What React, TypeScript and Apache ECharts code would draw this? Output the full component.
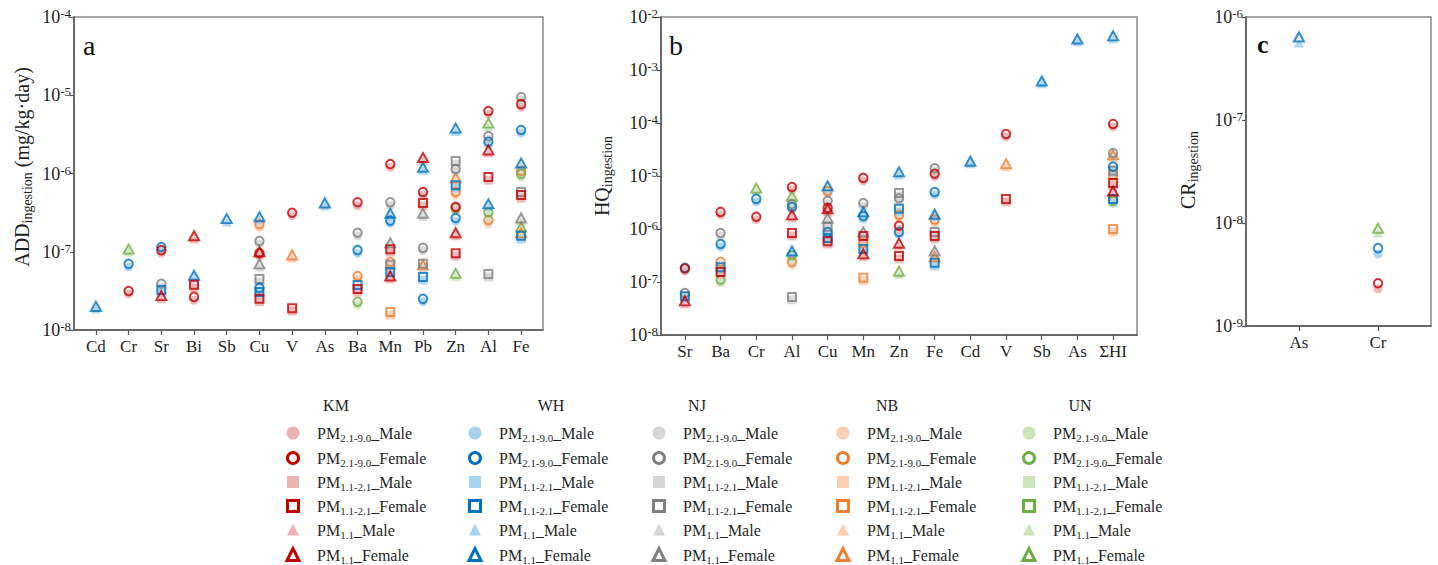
import React, { useEffect, useRef } from "react";
import * as echarts from "echarts";

type Pt = [string, string, string, number, number]; // [category, city, fraction, female, male]

const CATEGORIES_A = ["Cd", "Cr", "Sr", "Bi", "Sb", "Cu", "V", "As", "Ba", "Mn", "Pb", "Zn", "Al", "Fe"];
const CATEGORIES_B = ["Sr", "Ba", "Cr", "Al", "Cu", "Mn", "Zn", "Fe", "Cd", "V", "Sb", "As", "ΣHI"];
const CATEGORIES_C = ["As", "Cr"];
const CITIES = ["KM", "WH", "NJ", "NB", "UN"];
const DRAW_ORDER = ["NB", "UN", "NJ", "WH", "KM"];
const FEMALE_COLORS = ["#C00000", "#0070C0", "#7F7F7F", "#ED7D31", "#70AD47"];
const MALE_COLORS = ["#EDB3B3", "#A8D3EE", "#D6D6D6", "#F8CDB0", "#C9E4B9"];
const FRACTIONS = ["2.1-9.0", "1.1-2.1", "1.1"];
const FRACTION_SYMBOLS = ["circle", "rect", "triangle"];
const GENDERS = ["Male", "Female"];
const Y_TITLES = [
  ["ADD", "ingestion", " (mg/kg·day)"],
  ["HQ", "ingestion", ""],
  ["CR", "ingestion", ""],
];
const PANEL_LETTERS = ["a", "b", "c"];
const Y_RANGES = [
  [1e-8, 1e-4],
  [1e-8, 1e-2],
  [1e-9, 1e-6],
];

const POINTS_A: Pt[] = [
  ["Cd", "WH", "1.1", 2.0e-8, 1.85e-8],
  ["Cr", "UN", "1.1", 1.08e-7, 9.9e-8],
  ["Cr", "WH", "2.1-9.0", 7.0e-8, 6.4e-8],
  ["Cr", "KM", "2.1-9.0", 3.15e-8, 2.9e-8],
  ["Sr", "WH", "2.1-9.0", 1.15e-7, 1.05e-7],
  ["Sr", "KM", "2.1-9.0", 1.05e-7, 9.6e-8],
  ["Sr", "NJ", "2.1-9.0", 3.9e-8, 3.55e-8],
  ["Sr", "WH", "1.1-2.1", 3.25e-8, 3.0e-8],
  ["Sr", "KM", "1.1", 2.75e-8, 2.5e-8],
  ["Bi", "KM", "1.1", 1.6e-7, 1.45e-7],
  ["Bi", "WH", "1.1", 5.0e-8, 4.6e-8],
  ["Bi", "KM", "1.1-2.1", 3.8e-8, 3.45e-8],
  ["Bi", "KM", "2.1-9.0", 2.65e-8, 2.4e-8],
  ["Sb", "WH", "1.1", 2.65e-7, 2.4e-7],
  ["Cu", "WH", "1.1", 2.8e-7, 2.55e-7],
  ["Cu", "NB", "2.1-9.0", 2.25e-7, 2.05e-7],
  ["Cu", "NJ", "2.1-9.0", 1.37e-7, 1.25e-7],
  ["Cu", "KM", "1.1", 1.0e-7, 9.2e-8],
  ["Cu", "KM", "2.1-9.0", 9.6e-8, 8.8e-8],
  ["Cu", "NJ", "1.1", 7.0e-8, 6.4e-8],
  ["Cu", "NJ", "1.1-2.1", 4.5e-8, 4.1e-8],
  ["Cu", "WH", "2.1-9.0", 3.45e-8, 3.15e-8],
  ["Cu", "WH", "1.1-2.1", 3.05e-8, 2.8e-8],
  ["Cu", "KM", "1.1-2.1", 2.5e-8, 2.3e-8],
  ["V", "KM", "2.1-9.0", 3.15e-7, 2.9e-7],
  ["V", "NB", "1.1", 9.1e-8, 8.3e-8],
  ["V", "KM", "1.1-2.1", 1.9e-8, 1.75e-8],
  ["As", "WH", "1.1", 4.2e-7, 3.85e-7],
  ["Ba", "KM", "2.1-9.0", 4.3e-7, 3.9e-7],
  ["Ba", "NJ", "2.1-9.0", 1.75e-7, 1.6e-7],
  ["Ba", "WH", "2.1-9.0", 1.05e-7, 9.6e-8],
  ["Ba", "NB", "2.1-9.0", 4.9e-8, 4.5e-8],
  ["Ba", "WH", "1.1-2.1", 3.75e-8, 3.4e-8],
  ["Ba", "KM", "1.1-2.1", 3.35e-8, 3.05e-8],
  ["Ba", "UN", "2.1-9.0", 2.3e-8, 2.1e-8],
  ["Mn", "KM", "2.1-9.0", 1.32e-6, 1.2e-6],
  ["Mn", "NJ", "2.1-9.0", 4.3e-7, 3.9e-7],
  ["Mn", "WH", "1.1", 3.1e-7, 2.85e-7],
  ["Mn", "WH", "2.1-9.0", 2.5e-7, 2.3e-7],
  ["Mn", "NJ", "1.1", 1.3e-7, 1.2e-7],
  ["Mn", "KM", "1.1-2.1", 1.08e-7, 9.9e-8],
  ["Mn", "NB", "2.1-9.0", 7.4e-8, 6.8e-8],
  ["Mn", "NJ", "1.1-2.1", 6.8e-8, 6.2e-8],
  ["Mn", "WH", "1.1-2.1", 5.5e-8, 5.0e-8],
  ["Mn", "KM", "1.1", 4.9e-8, 4.5e-8],
  ["Mn", "NB", "1.1-2.1", 1.7e-8, 1.55e-8],
  ["Pb", "KM", "1.1", 1.6e-6, 1.45e-6],
  ["Pb", "WH", "1.1", 1.2e-6, 1.1e-6],
  ["Pb", "KM", "2.1-9.0", 5.8e-7, 5.3e-7],
  ["Pb", "KM", "1.1-2.1", 4.2e-7, 3.85e-7],
  ["Pb", "NJ", "1.1", 3.1e-7, 2.85e-7],
  ["Pb", "NJ", "2.1-9.0", 1.12e-7, 1.03e-7],
  ["Pb", "NJ", "1.1-2.1", 7.0e-8, 6.4e-8],
  ["Pb", "NB", "1.1", 6.8e-8, 6.2e-8],
  ["Pb", "WH", "1.1-2.1", 4.75e-8, 4.35e-8],
  ["Pb", "WH", "2.1-9.0", 2.5e-8, 2.3e-8],
  ["Zn", "WH", "1.1", 3.8e-6, 3.45e-6],
  ["Zn", "NJ", "1.1-2.1", 1.44e-6, 1.3e-6],
  ["Zn", "NJ", "2.1-9.0", 1.14e-6, 1.04e-6],
  ["Zn", "NB", "1.1", 8.8e-7, 8.0e-7],
  ["Zn", "WH", "1.1-2.1", 7.1e-7, 6.5e-7],
  ["Zn", "NB", "2.1-9.0", 5.8e-7, 5.3e-7],
  ["Zn", "KM", "2.1-9.0", 3.75e-7, 3.4e-7],
  ["Zn", "UN", "2.1-9.0", 3.6e-7, 3.3e-7],
  ["Zn", "WH", "2.1-9.0", 2.7e-7, 2.45e-7],
  ["Zn", "KM", "1.1", 1.75e-7, 1.6e-7],
  ["Zn", "KM", "1.1-2.1", 9.6e-8, 8.8e-8],
  ["Zn", "UN", "1.1", 5.3e-8, 4.85e-8],
  ["Al", "KM", "2.1-9.0", 6.3e-6, 5.75e-6],
  ["Al", "UN", "1.1", 4.4e-6, 4.0e-6],
  ["Al", "NJ", "2.1-9.0", 3.0e-6, 2.75e-6],
  ["Al", "WH", "2.1-9.0", 2.55e-6, 2.3e-6],
  ["Al", "KM", "1.1", 2.0e-6, 1.83e-6],
  ["Al", "KM", "1.1-2.1", 9.0e-7, 8.2e-7],
  ["Al", "WH", "1.1", 4.1e-7, 3.75e-7],
  ["Al", "UN", "2.1-9.0", 3.2e-7, 2.9e-7],
  ["Al", "NB", "2.1-9.0", 2.55e-7, 2.3e-7],
  ["Al", "NJ", "1.1-2.1", 5.2e-8, 4.75e-8],
  ["Fe", "NJ", "2.1-9.0", 9.5e-6, 8.7e-6],
  ["Fe", "KM", "2.1-9.0", 7.7e-6, 7.0e-6],
  ["Fe", "WH", "2.1-9.0", 3.6e-6, 3.3e-6],
  ["Fe", "WH", "1.1", 1.36e-6, 1.24e-6],
  ["Fe", "NB", "2.1-9.0", 1.08e-6, 9.9e-7],
  ["Fe", "UN", "2.1-9.0", 9.9e-7, 9.0e-7],
  ["Fe", "NJ", "1.1-2.1", 5.8e-7, 5.3e-7],
  ["Fe", "KM", "1.1-2.1", 5.3e-7, 4.85e-7],
  ["Fe", "NJ", "1.1", 2.7e-7, 2.45e-7],
  ["Fe", "UN", "1.1", 2.07e-7, 1.9e-7],
  ["Fe", "NB", "1.1", 1.75e-7, 1.6e-7],
  ["Fe", "WH", "1.1-2.1", 1.6e-7, 1.45e-7],
];

const POINTS_B: Pt[] = [
  ["Sr", "WH", "2.1-9.0", 1.85e-7, 1.65e-7],
  ["Sr", "KM", "2.1-9.0", 1.8e-7, 1.6e-7],
  ["Sr", "NJ", "2.1-9.0", 6.2e-8, 5.5e-8],
  ["Sr", "WH", "1.1-2.1", 5.4e-8, 4.8e-8],
  ["Sr", "KM", "1.1", 4.4e-8, 3.9e-8],
  ["Ba", "KM", "2.1-9.0", 2.1e-6, 1.85e-6],
  ["Ba", "NJ", "2.1-9.0", 8.4e-7, 7.4e-7],
  ["Ba", "WH", "2.1-9.0", 5.2e-7, 4.6e-7],
  ["Ba", "NB", "2.1-9.0", 2.4e-7, 2.1e-7],
  ["Ba", "WH", "1.1-2.1", 1.9e-7, 1.7e-7],
  ["Ba", "KM", "1.1-2.1", 1.55e-7, 1.37e-7],
  ["Ba", "UN", "2.1-9.0", 1.1e-7, 9.7e-8],
  ["Cr", "UN", "1.1", 5.9e-6, 5.2e-6],
  ["Cr", "WH", "2.1-9.0", 3.7e-6, 3.25e-6],
  ["Cr", "KM", "2.1-9.0", 1.7e-6, 1.5e-6],
  ["Al", "KM", "2.1-9.0", 6.2e-6, 5.5e-6],
  ["Al", "UN", "1.1", 4.2e-6, 3.7e-6],
  ["Al", "NJ", "2.1-9.0", 2.95e-6, 2.6e-6],
  ["Al", "WH", "2.1-9.0", 2.6e-6, 2.3e-6],
  ["Al", "KM", "1.1", 1.85e-6, 1.63e-6],
  ["Al", "KM", "1.1-2.1", 8.4e-7, 7.4e-7],
  ["Al", "WH", "1.1", 3.85e-7, 3.4e-7],
  ["Al", "UN", "2.1-9.0", 3.2e-7, 2.8e-7],
  ["Al", "NB", "2.1-9.0", 2.4e-7, 2.1e-7],
  ["Al", "NJ", "1.1-2.1", 5.2e-8, 4.6e-8],
  ["Cu", "WH", "1.1", 6.5e-6, 5.7e-6],
  ["Cu", "NB", "2.1-9.0", 5.2e-6, 4.6e-6],
  ["Cu", "NJ", "2.1-9.0", 3.4e-6, 3.0e-6],
  ["Cu", "KM", "2.1-9.0", 2.5e-6, 2.2e-6],
  ["Cu", "KM", "1.1", 2.4e-6, 2.1e-6],
  ["Cu", "NJ", "1.1", 1.6e-6, 1.4e-6],
  ["Cu", "NJ", "1.1-2.1", 1.1e-6, 9.7e-7],
  ["Cu", "WH", "2.1-9.0", 8.8e-7, 7.8e-7],
  ["Cu", "WH", "1.1-2.1", 6.8e-7, 6.0e-7],
  ["Cu", "KM", "1.1-2.1", 5.9e-7, 5.2e-7],
  ["Mn", "KM", "2.1-9.0", 9.2e-6, 8.1e-6],
  ["Mn", "NJ", "2.1-9.0", 3.1e-6, 2.7e-6],
  ["Mn", "WH", "1.1", 2.1e-6, 1.85e-6],
  ["Mn", "WH", "2.1-9.0", 1.75e-6, 1.55e-6],
  ["Mn", "NJ", "1.1", 8.8e-7, 7.8e-7],
  ["Mn", "KM", "1.1-2.1", 7.4e-7, 6.5e-7],
  ["Mn", "NB", "2.1-9.0", 5.4e-7, 4.8e-7],
  ["Mn", "WH", "1.1-2.1", 4.2e-7, 3.7e-7],
  ["Mn", "KM", "1.1", 3.4e-7, 3.0e-7],
  ["Mn", "NB", "1.1-2.1", 1.2e-7, 1.06e-7],
  ["Zn", "WH", "1.1", 1.2e-5, 1.05e-5],
  ["Zn", "NJ", "1.1-2.1", 4.8e-6, 4.2e-6],
  ["Zn", "NJ", "2.1-9.0", 3.8e-6, 3.35e-6],
  ["Zn", "WH", "1.1-2.1", 2.4e-6, 2.1e-6],
  ["Zn", "NB", "2.1-9.0", 1.85e-6, 1.63e-6],
  ["Zn", "KM", "2.1-9.0", 1.15e-6, 1.0e-6],
  ["Zn", "WH", "2.1-9.0", 8.8e-7, 7.8e-7],
  ["Zn", "KM", "1.1", 5.4e-7, 4.8e-7],
  ["Zn", "KM", "1.1-2.1", 3.1e-7, 2.75e-7],
  ["Zn", "UN", "1.1", 1.6e-7, 1.4e-7],
  ["Fe", "NJ", "2.1-9.0", 1.4e-5, 1.25e-5],
  ["Fe", "KM", "2.1-9.0", 1.1e-5, 9.7e-6],
  ["Fe", "WH", "2.1-9.0", 5.0e-6, 4.4e-6],
  ["Fe", "WH", "1.1", 1.9e-6, 1.7e-6],
  ["Fe", "NB", "2.1-9.0", 1.5e-6, 1.3e-6],
  ["Fe", "NJ", "1.1-2.1", 8.8e-7, 7.8e-7],
  ["Fe", "KM", "1.1-2.1", 7.4e-7, 6.5e-7],
  ["Fe", "NJ", "1.1", 3.85e-7, 3.4e-7],
  ["Fe", "NB", "1.1", 3.0e-7, 2.65e-7],
  ["Fe", "WH", "1.1-2.1", 2.3e-7, 2.0e-7],
  ["Cd", "WH", "1.1", 1.9e-5, 1.7e-5],
  ["V", "KM", "2.1-9.0", 6.2e-5, 5.5e-5],
  ["V", "NB", "1.1", 1.7e-5, 1.5e-5],
  ["V", "KM", "1.1-2.1", 3.7e-6, 3.25e-6],
  ["Sb", "WH", "1.1", 6.2e-4, 5.5e-4],
  ["As", "WH", "1.1", 3.85e-3, 3.4e-3],
  ["ΣHI", "WH", "1.1", 4.4e-3, 3.9e-3],
  ["ΣHI", "KM", "2.1-9.0", 9.6e-5, 8.5e-5],
  ["ΣHI", "NJ", "2.1-9.0", 2.7e-5, 2.4e-5],
  ["ΣHI", "NB", "1.1", 2.5e-5, 2.2e-5],
  ["ΣHI", "WH", "2.1-9.0", 1.5e-5, 1.33e-5],
  ["ΣHI", "NJ", "1.1-2.1", 1.25e-5, 1.1e-5],
  ["ΣHI", "NB", "2.1-9.0", 1.05e-5, 9.3e-6],
  ["ΣHI", "KM", "1.1-2.1", 7.4e-6, 6.5e-6],
  ["ΣHI", "KM", "1.1", 5.2e-6, 4.6e-6],
  ["ΣHI", "WH", "1.1-2.1", 3.7e-6, 3.25e-6],
  ["ΣHI", "UN", "2.1-9.0", 3.4e-6, 3.0e-6],
  ["ΣHI", "NB", "1.1-2.1", 1.0e-6, 8.8e-7],
];

const POINTS_C: Pt[] = [
  ["As", "WH", "1.1", 6.4e-7, 5.6e-7],
  ["Cr", "UN", "1.1", 8.9e-9, 8.0e-9],
  ["Cr", "WH", "2.1-9.0", 5.7e-9, 5.0e-9],
  ["Cr", "KM", "2.1-9.0", 2.6e-9, 2.3e-9],
];

const SERIF = '"Liberation Serif", "Times New Roman", serif';
const TEXT_COLOR = "#1f1f1f";

const GRIDS = [
  { left: 74, top: 17, width: 469, height: 313 },
  { left: 661, top: 17, width: 476, height: 318 },
  { left: 1246, top: 17, width: 185, height: 309 },
];
const TITLE_POS = [
  [22, 167],
  [602, 176],
  [1188, 170],
];
const LETTER_POS: [number, number, number, string][] = [
  [83, 45, 28, "normal"],
  [669, 45, 28, "normal"],
  [1257, 44, 26, "bold"],
];
const LEGEND_MARKER_X = [293, 475, 659, 843, 1029];
const LEGEND_HEADER_X = [336, 551, 697, 887, 1080];
const LEGEND_ROW_Y = [433, 458, 482, 506, 530, 555];
const LEGEND_HEADER_Y = 405;

function buildSeries(points: Pt[], cats: string[], gi: number) {
  const out: any[] = [];
  for (let g = 0; g < 2; g++) {
    for (const city of DRAW_ORDER) {
      const ci = CITIES.indexOf(city);
      FRACTIONS.forEach((fr, fi) => {
        const data = points
          .filter((p) => p[1] === city && p[2] === fr)
          .map((p) => [cats.indexOf(p[0]), g === 0 ? p[4] : p[3]]);
        if (!data.length) return;
        const sym = FRACTION_SYMBOLS[fi];
        const size = sym === "triangle" ? [10, 9] : sym === "rect" ? 8 : 8.5;
        out.push({
          type: "scatter",
          name: `${city} PM${fr}_${GENDERS[g]}`,
          xAxisIndex: gi,
          yAxisIndex: gi,
          symbol: sym,
          symbolSize: g === 0 ? (sym === "triangle" ? [10, 9] : 9) : size,
          silent: true,
          itemStyle:
            g === 0
              ? { color: MALE_COLORS[ci], opacity: 0.9 }
              : { color: "rgba(255,255,255,0)", borderColor: FEMALE_COLORS[ci], borderWidth: 2 },
          data,
        });
      });
    }
  }
  return out;
}

function legendGraphics() {
  const els: any[] = [];
  CITIES.forEach((city, ci) => {
    const mx = LEGEND_MARKER_X[ci];
    const tx = mx + 24;
    els.push({
      type: "text",
      x: LEGEND_HEADER_X[ci],
      y: LEGEND_HEADER_Y,
      style: { text: city, fontSize: 16, fontFamily: SERIF, fill: TEXT_COLOR, align: "center", verticalAlign: "middle" },
    });
    let row = 0;
    FRACTIONS.forEach((fr, fi) => {
      for (let g = 0; g < 2; g++) {
        const cy = LEGEND_ROW_Y[row];
        const female = g === 1;
        const style = female
          ? { fill: "none", stroke: FEMALE_COLORS[ci], lineWidth: 3 }
          : { fill: MALE_COLORS[ci] };
        const sym = FRACTION_SYMBOLS[fi];
        if (sym === "circle") {
          els.push({ type: "circle", shape: { cx: mx, cy, r: female ? 5.5 : 6.5 }, style });
        } else if (sym === "rect") {
          const s = female ? 11 : 12;
          els.push({ type: "rect", shape: { x: mx - s / 2, y: cy - s / 2, width: s, height: s }, style });
        } else {
          const w = 12;
          const h = 11;
          els.push({
            type: "polygon",
            shape: { points: [[mx, cy - h / 2 - 1], [mx - w / 2, cy + h / 2], [mx + w / 2, cy + h / 2]] },
            style: female ? { ...style, lineJoin: "miter" } : style,
          });
        }
        els.push({
          type: "text",
          x: tx,
          y: cy,
          style: {
            text: `{m|PM}{s|${fr}}{m|_${GENDERS[g]}}`,
            fill: TEXT_COLOR,
            align: "left",
            verticalAlign: "middle",
            fontFamily: SERIF,
            fontSize: 16,
            rich: {
              m: { fontSize: 16, fontFamily: SERIF, fill: TEXT_COLOR, lineHeight: 20 },
              s: { fontSize: 11, fontFamily: SERIF, fill: TEXT_COLOR, lineHeight: 10, verticalAlign: "bottom" },
            },
          },
        });
        row++;
      }
    });
  });
  return els;
}

function buildOption() {
  const catsList = [CATEGORIES_A, CATEGORIES_B, CATEGORIES_C];
  const pointsList = [POINTS_A, POINTS_B, POINTS_C];
  const grid = GRIDS.map((g) => ({ ...g, show: true, borderColor: "#8a8a8a", borderWidth: 1.5, backgroundColor: "transparent" }));
  const xAxis = catsList.map((cats, i) => {
    const idx = cats.map((_, k) => k);
    return {
      type: "value",
      gridIndex: i,
      min: -0.67,
      max: cats.length - 1 + 0.67,
      splitLine: { show: false },
      axisLine: { show: true, onZero: false, lineStyle: { color: "#555", width: 1.5 } },
      axisTick: { show: true, length: 5, inside: false, customValues: idx, lineStyle: { color: "#555", width: 1.2 } },
      axisLabel: {
        customValues: idx,
        formatter: (v: number) => cats[Math.round(v)] ?? "",
        color: TEXT_COLOR,
        fontFamily: SERIF,
        fontSize: 17,
        margin: 8,
      },
    };
  });
  const yAxis = Y_RANGES.map((r, i) => ({
    type: "log",
    logBase: 10,
    gridIndex: i,
    min: r[0],
    max: r[1],
    splitLine: { show: false },
    minorTick: { show: false },
    axisLine: { show: true, onZero: false, lineStyle: { color: "#555", width: 1.5 } },
    axisTick: { show: true, length: 4, lineStyle: { color: "#555", width: 1.2 } },
    axisLabel: {
      margin: 3,
      formatter: (v: number) => `{b|10}{s|${Math.round(Math.log10(v))}}`,
      rich: {
        b: { fontSize: 18, fontFamily: SERIF, color: TEXT_COLOR, lineHeight: 20 },
        s: { fontSize: 13, fontFamily: SERIF, color: TEXT_COLOR, lineHeight: 12, verticalAlign: "top" },
      },
    },
  }));
  const series = pointsList.flatMap((pts, i) => buildSeries(pts, catsList[i], i));

  const titles = Y_TITLES.map((t, i) => ({
    type: "text",
    x: TITLE_POS[i][0],
    y: TITLE_POS[i][1],
    rotation: Math.PI / 2,
    style: {
      text: `{m|${t[0]}}{s|${t[1]}}` + (t[2] ? `{m|${t[2]}}` : ""),
      align: "center",
      verticalAlign: "middle",
      fill: TEXT_COLOR,
      fontFamily: SERIF,
      fontSize: 20,
      rich: {
        m: { fontSize: 20, fontFamily: SERIF, fill: TEXT_COLOR, lineHeight: 24 },
        s: { fontSize: 14, fontFamily: SERIF, fill: TEXT_COLOR, lineHeight: 12, verticalAlign: "bottom" },
      },
    },
  }));
  const letters = PANEL_LETTERS.map((l, i) => ({
    type: "text",
    x: LETTER_POS[i][0],
    y: LETTER_POS[i][1],
    style: {
      text: l,
      fill: "#111",
      fontFamily: SERIF,
      fontSize: LETTER_POS[i][2],
      fontWeight: LETTER_POS[i][3],
      align: "left",
      verticalAlign: "middle",
    },
  }));

  return {
    animation: false,
    backgroundColor: "#ffffff",
    grid,
    xAxis,
    yAxis,
    series,
    graphic: [...titles, ...letters, ...legendGraphics()],
  };
}

export default function App() {
  const ref = useRef<HTMLDivElement>(null);
  useEffect(() => {
    if (!ref.current) return;
    const chart = echarts.init(ref.current, undefined, { renderer: "svg" });
    chart.setOption(buildOption() as any);
    return () => chart.dispose();
  }, []);
  return (
    <div
      ref={ref}
      style={{ position: "fixed", left: 0, top: 0, width: 1438, height: 565, background: "#fff" }}
    />
  );
}
